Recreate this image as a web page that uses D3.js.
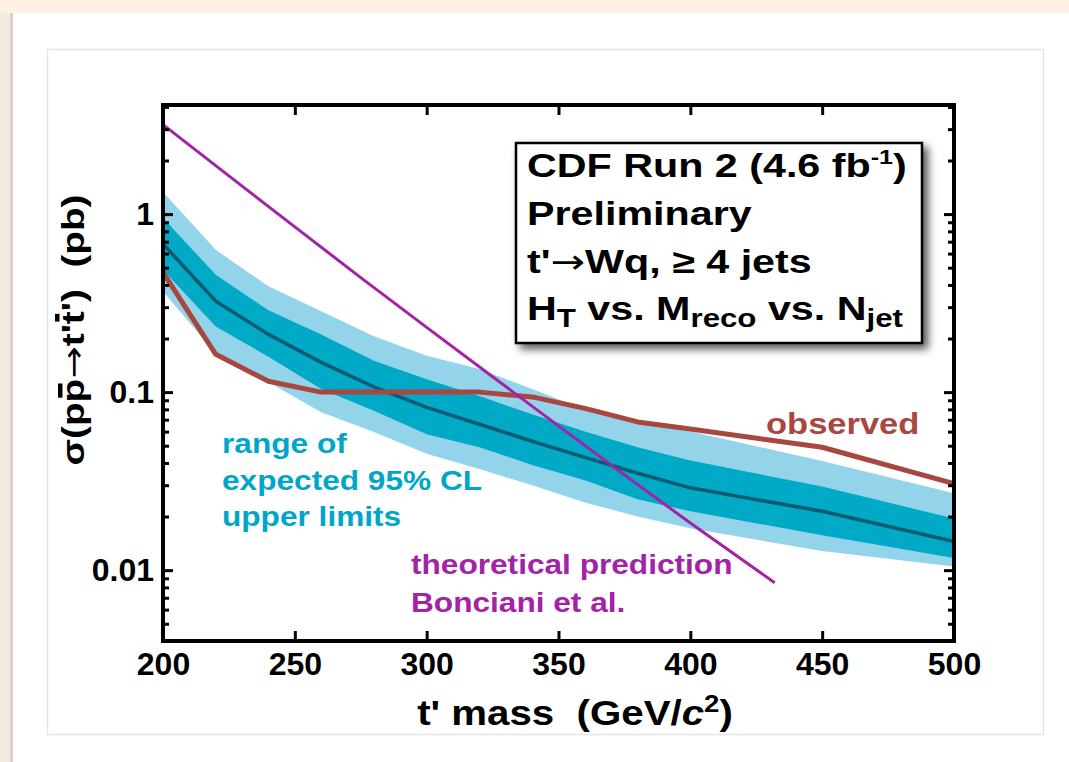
<!DOCTYPE html>
<html>
<head>
<meta charset="utf-8">
<script src="https://cdn.jsdelivr.net/npm/d3@7"></script>
<style>
  body { margin: 0; background: #fff; }
  svg { display: block; }
  text { font-family: "Liberation Sans", Arial, Helvetica, sans-serif; font-weight: bold; }
  .arrow { font-family: "DejaVu Sans", sans-serif; font-weight: normal; }
</style>
</head>
<body>
<div id="container"></div>
<script>
// data (cross section in pb)
const masses = [200, 220, 240, 260, 280, 300, 320, 340, 360, 380, 400, 450, 500]
const observed = [0.47, 0.163, 0.115, 0.100, 0.100, 0.100, 0.100, 0.094, 0.081, 0.068, 0.062, 0.049, 0.0306]
const expected = [0.68, 0.324, 0.211, 0.147, 0.107, 0.082, 0.066, 0.053, 0.043, 0.035, 0.029, 0.0214, 0.0145]
const minus1 = [0.486, 0.234, 0.158, 0.104, 0.0786, 0.058, 0.049, 0.039, 0.032, 0.025, 0.0214, 0.0157, 0.0117]
const plus1 = [0.95, 0.457, 0.288, 0.211, 0.150, 0.118, 0.095, 0.075, 0.060, 0.049, 0.0413, 0.0295, 0.0195]
const minus2 = [0.368, 0.165, 0.114, 0.077, 0.0597, 0.045, 0.037, 0.030, 0.024, 0.020, 0.0172, 0.0128, 0.0105]
const plus2 = [1.33, 0.63, 0.393, 0.285, 0.206, 0.160, 0.135, 0.104, 0.080, 0.068, 0.060, 0.041, 0.027]

const theoryMasses = [200, 225, 250, 275, 300, 325, 350, 375, 400, 432]
const theory = [3.18, 1.64, 0.847, 0.44, 0.231, 0.122, 0.0646, 0.0343, 0.0184, 0.0085]

const xTicks = [200, 250, 300, 350, 400, 450, 500]
const yTicks = [0.01, 0.1, 1]
const yTickLabels = ["0.01", "0.1", "1"]

// Constants
const width = 1069,
  height = 762,
  margin = { top: 105, bottom: 121, left: 163, right: 114 }

const svg = d3.select("#container")
  .append("svg")
  .attr("width", width)
  .attr("height", height)

// page background (slide frame)
svg.append("rect").attr("x", 0).attr("y", 0).attr("width", width).attr("height", 13).attr("fill", "#fdf2e1")
svg.append("rect").attr("x", 0).attr("y", 13).attr("width", 12).attr("height", height).attr("fill", "#f4ebe0")
svg.append("rect").attr("x", 10).attr("y", 13).attr("width", 3).attr("height", height).attr("fill", "#d8d2cb")
svg.append("rect")
  .attr("x", 47.5).attr("y", 49.5).attr("width", 996).attr("height", 685)
  .attr("fill", "#fff").attr("stroke", "#e4e4e4").attr("stroke-width", 1.5)

const defs = svg.append("defs")
const shadow = defs.append("filter").attr("id", "shadow")
  .attr("x", "-10%").attr("y", "-10%").attr("width", "130%").attr("height", "130%")
shadow.append("feDropShadow")
  .attr("dx", 5).attr("dy", 5).attr("stdDeviation", 4)
  .attr("flood-color", "#000").attr("flood-opacity", 0.65)

// scales
const xScale = d3.scaleLinear()
  .domain([200, 500])
  .range([margin.left, width - margin.right - 1])

const yScale = d3.scaleLog()
  .domain([0.004, 4.1])
  .range([height - margin.bottom, margin.top])

const plot = svg.append("g")

// bands
const rows = masses.map((m, i) => ({
  m: m, obs: observed[i], exp: expected[i],
  lo1: minus1[i], hi1: plus1[i], lo2: minus2[i], hi2: plus2[i]
}))

plot.append("path")
  .datum(rows)
  .attr("fill", "#93d4ea")
  .attr("d", d3.area().x(d => xScale(d.m)).y0(d => yScale(d.lo2)).y1(d => yScale(d.hi2)))

plot.append("path")
  .datum(rows)
  .attr("fill", "#00a9c6")
  .attr("d", d3.area().x(d => xScale(d.m)).y0(d => yScale(d.lo1)).y1(d => yScale(d.hi1)))

plot.append("path")
  .datum(rows)
  .attr("fill", "none")
  .attr("stroke", "#0a5a72")
  .attr("stroke-width", 3.5)
  .attr("d", d3.line().x(d => xScale(d.m)).y(d => yScale(d.exp)))

plot.append("path")
  .datum(rows)
  .attr("fill", "none")
  .attr("stroke", "#a8463f")
  .attr("stroke-width", 5)
  .attr("stroke-linejoin", "round")
  .attr("d", d3.line().x(d => xScale(d.m)).y(d => yScale(d.obs)))

plot.append("path")
  .datum(theoryMasses.map((m, i) => ({ m: m, v: theory[i] })))
  .attr("fill", "none")
  .attr("stroke", "#a322a8")
  .attr("stroke-width", 3)
  .attr("d", d3.line().x(d => xScale(d.m)).y(d => yScale(d.v)))

// axes (ticks point inward)
const minorTicks = []
;[0.001, 0.01, 0.1, 1].forEach(dec => {
  for (let k = 2; k <= 9; k++) {
    const v = dec * k
    if (v >= 0.004 && v <= 4.1) minorTicks.push(v)
  }
})

function styleAxis(g) {
  g.select(".domain").remove()
  g.selectAll("line").attr("stroke", "#000").attr("stroke-width", 3)
  g.selectAll("text").attr("fill", "#000").attr("font-size", 32).attr("font-family", "Liberation Sans, Arial, sans-serif").attr("font-weight", "bold")
}

svg.append("g")
  .attr("transform", `translate(0,${height - margin.bottom})`)
  .call(d3.axisBottom(xScale).tickValues(xTicks).tickSize(-10).tickPadding(11).tickFormat(d3.format("d")))
  .call(styleAxis)

svg.append("g")
  .attr("transform", `translate(0,${margin.top})`)
  .call(d3.axisTop(xScale).tickValues(xTicks).tickSize(-10).tickFormat(""))
  .call(styleAxis)

svg.append("g")
  .attr("transform", `translate(${margin.left},0)`)
  .call(d3.axisLeft(yScale).tickValues(yTicks).tickSize(-10).tickPadding(9).tickFormat((d, i) => yTickLabels[i]))
  .call(styleAxis)

svg.append("g")
  .attr("transform", `translate(${margin.left},0)`)
  .call(d3.axisLeft(yScale).tickValues(minorTicks).tickSize(-6).tickFormat(""))
  .call(styleAxis)

svg.append("g")
  .attr("transform", `translate(${width - margin.right - 1},0)`)
  .call(d3.axisRight(yScale).tickValues(yTicks).tickSize(-10).tickFormat(""))
  .call(styleAxis)

svg.append("g")
  .attr("transform", `translate(${width - margin.right - 1},0)`)
  .call(d3.axisRight(yScale).tickValues(minorTicks).tickSize(-6).tickFormat(""))
  .call(styleAxis)

// frame
svg.append("rect")
  .attr("x", margin.left).attr("y", margin.top)
  .attr("width", width - margin.right - 1 - margin.left)
  .attr("height", height - margin.bottom - margin.top)
  .attr("fill", "none").attr("stroke", "#000").attr("stroke-width", 4)

// text helper: bold Helvetica-like type, slightly widened
function label(x, y, size, fill, sx, rot, parent) {
  return (parent || svg).append("text")
    .attr("transform", `translate(${x},${y})` + (rot ? ` rotate(${rot})` : "") + ` scale(${sx},1)`)
    .attr("font-size", size)
    .attr("fill", fill)
    .style("white-space", "pre")
}

// axis titles
const xt = label(575, 725, 35, "#000", 1.15).attr("text-anchor", "middle")
xt.append("tspan").text("t' mass  (GeV/")
xt.append("tspan").attr("font-style", "italic").text("c")
xt.append("tspan").attr("font-size", 24).attr("dy", -13).text("2")
xt.append("tspan").attr("dy", 13).text(")")

// y title, bars over the anti-particles drawn as small rects
const ytg = svg.append("g").attr("transform", "translate(84,330) rotate(-90) scale(1.25,1)")
const yt = ytg.append("text").attr("font-size", 31).attr("text-anchor", "middle").style("white-space", "pre")
yt.append("tspan").text("σ(pp")
yt.append("tspan").attr("class", "arrow").text("→")
yt.append("tspan").text("t't')  (pb)")
;[[3, -26], [7, -29]].forEach(([idx, yy]) => {
  const e = yt.node().getExtentOfChar(idx)
  ytg.append("rect")
    .attr("x", e.x + e.width * 0.2).attr("y", yy)
    .attr("width", e.width * 0.6).attr("height", 4.5)
    .attr("fill", "#000")
})

// annotations
const teal = "#00a6c9"
label(222, 453, 27.5, teal, 1.15).text("range of")
label(222, 490, 27.5, teal, 1.15).text("expected 95% CL")
label(222, 526, 27.5, teal, 1.15).text("upper limits")

const purple = "#a322a8"
label(411, 574, 27.5, purple, 1.15).text("theoretical prediction")
label(411, 612, 27.5, purple, 1.15).text("Bonciani et al.")

label(766, 434, 30, "#a8463f", 1.15).text("observed")

// info box
svg.append("rect")
  .attr("x", 516).attr("y", 143).attr("width", 406).attr("height", 200)
  .attr("fill", "#fff").attr("stroke", "#000").attr("stroke-width", 2.5)
  .attr("filter", "url(#shadow)")

const l1 = label(527, 177, 33, "#000", 1.25)
l1.append("tspan").text("CDF Run 2 (4.6 fb")
l1.append("tspan").attr("font-size", 20).attr("dy", -13).text("-1")
l1.append("tspan").attr("dy", 13).text(")")

label(527, 225, 33, "#000", 1.25).text("Preliminary")

const l3 = label(527, 273, 33, "#000", 1.25)
l3.append("tspan").text("t'")
l3.append("tspan").attr("class", "arrow").text("→")
l3.append("tspan").text("Wq, ≥ 4 jets")

const l4 = label(527, 320, 33, "#000", 1.25)
l4.append("tspan").text("H")
l4.append("tspan").attr("font-size", 25).attr("dy", 7).text("T")
l4.append("tspan").attr("dy", -7).text(" vs. M")
l4.append("tspan").attr("font-size", 25).attr("dy", 7).text("reco")
l4.append("tspan").attr("dy", -7).text(" vs. N")
l4.append("tspan").attr("font-size", 25).attr("dy", 7).text("jet")
</script>
</body>
</html>
